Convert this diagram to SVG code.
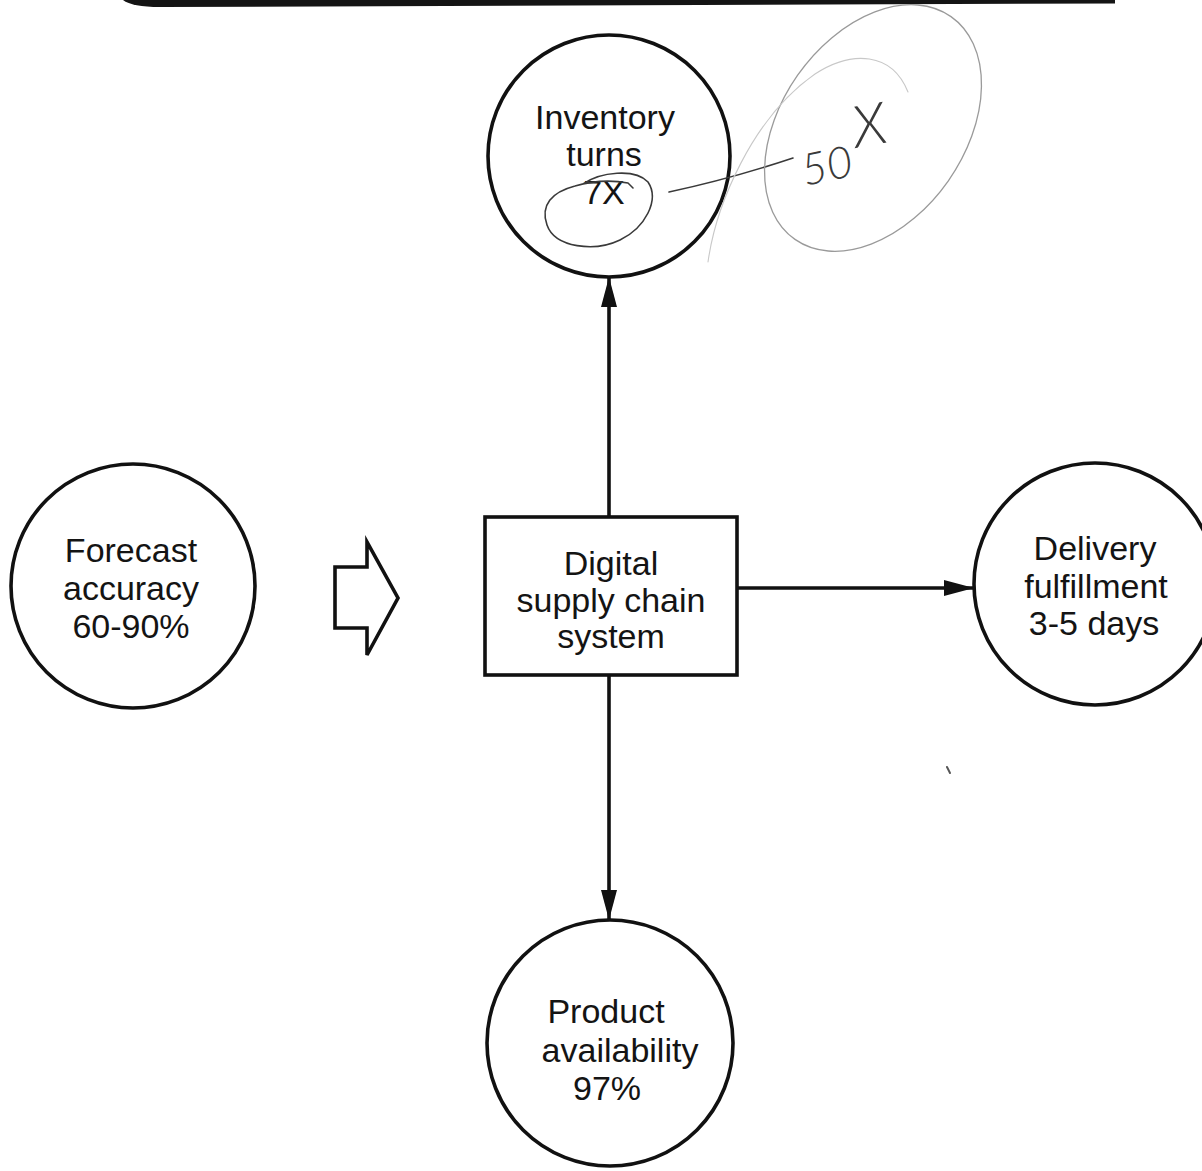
<svg xmlns="http://www.w3.org/2000/svg" width="1202" height="1171" viewBox="0 0 1202 1171">
  <style>
    .node { fill: #fff; stroke: #111; stroke-width: 3.6; }
    .label { font-family: "Liberation Sans", Arial, Helvetica, sans-serif; font-size: 34px; fill: #141414; text-anchor: middle; }
    .conn { stroke: #111; stroke-width: 3.6; fill: none; }
    .pencil { fill: none; stroke: #3a3a3a; stroke-width: 1.6; stroke-linecap: round; stroke-linejoin: round; }
    .pencil-faint { fill: none; stroke: #9a9a9a; stroke-width: 1.3; stroke-linecap: round; }
    .pencil-ghost { fill: none; stroke: #c8c8c8; stroke-width: 1.1; stroke-linecap: round; }
    .hand { font-family: "Lato", "Open Sans", "DejaVu Sans", sans-serif; font-weight: 300; font-style: italic; fill: #3a3a3a; }
  </style>
  <defs>
    <marker id="arrow" viewBox="0 0 30 16" refX="30" refY="8" markerWidth="30" markerHeight="16" markerUnits="userSpaceOnUse" orient="auto">
      <path d="M0,0 L30,8 L0,16 Z" fill="#111"/>
    </marker>
  </defs>

  <rect width="1202" height="1171" fill="#fff"/>

  <!-- heavy rule along the top edge -->
  <path d="M123 0 L1115 0 L1115 3.5 L160 7 Q132 7 123 0 Z" fill="#141414"/>

  <!-- connectors -->
  <g id="connectors">
    <line class="conn" x1="609" y1="517" x2="609" y2="277" marker-end="url(#arrow)"/>
    <line class="conn" x1="609" y1="675" x2="609" y2="920" marker-end="url(#arrow)"/>
    <line class="conn" x1="737" y1="588" x2="974" y2="588" marker-end="url(#arrow)"/>
    <!-- hollow block arrow feeding the system -->
    <polygon points="335,567 367,567 367,542 398,598 367,655 367,628 335,628" fill="#fff" stroke="#111" stroke-width="3.6" stroke-linejoin="miter"/>
  </g>

  <g id="node-inventory">
    <circle class="node" cx="609" cy="156" r="121"/>
    <text class="label" x="605" y="129">Inventory</text>
    <text class="label" x="604" y="166">turns</text>
    <text class="label" x="604" y="204">7X</text>
  </g>

  <g id="node-forecast">
    <circle class="node" cx="133" cy="586" r="122"/>
    <text class="label" x="131" y="562">Forecast</text>
    <text class="label" x="131" y="600">accuracy</text>
    <text class="label" x="131" y="638">60-90%</text>
  </g>

  <g id="node-system">
    <rect class="node" x="485" y="517" width="252" height="158"/>
    <text class="label" x="611" y="575">Digital</text>
    <text class="label" x="611" y="612">supply chain</text>
    <text class="label" x="611" y="648">system</text>
  </g>

  <g id="node-delivery">
    <circle class="node" cx="1095" cy="584" r="121"/>
    <text class="label" x="1095" y="560">Delivery</text>
    <text class="label" x="1096" y="598">fulfillment</text>
    <text class="label" x="1094" y="635">3-5 days</text>
  </g>

  <g id="node-availability">
    <circle class="node" cx="610" cy="1043" r="123"/>
    <text class="label" x="606" y="1023">Product</text>
    <text class="label" x="620" y="1062">availability</text>
    <text class="label" x="607" y="1100">97%</text>
  </g>

  <!-- pencil notes over the inventory figure -->
  <g id="annotation">
    <path class="pencil" d="M583 184 C600 172 635 168 648 182 C660 200 645 228 620 240 C595 252 555 248 547 225 C540 205 552 192 575 186 C592 181 612 180 628 183 L633 188"/>
    <path class="pencil" d="M669 192 Q730 179 793 158"/>
    <ellipse class="pencil-faint" cx="873" cy="128" rx="136" ry="92" transform="rotate(-55 873 128)"/>
    <path class="pencil-ghost" d="M708 262 C716 205 752 118 815 74 C852 50 892 52 908 92"/>
    <text class="hand" x="805" y="186" font-size="44" transform="rotate(-12 805 186)">50</text>
    <text class="hand" x="856" y="148" font-size="58" transform="rotate(-10 856 148)">X</text>
  </g>

  <!-- small stray mark -->
  <path d="M947 767 L950 773" stroke="#555" stroke-width="2" stroke-linecap="round"/>
</svg>
